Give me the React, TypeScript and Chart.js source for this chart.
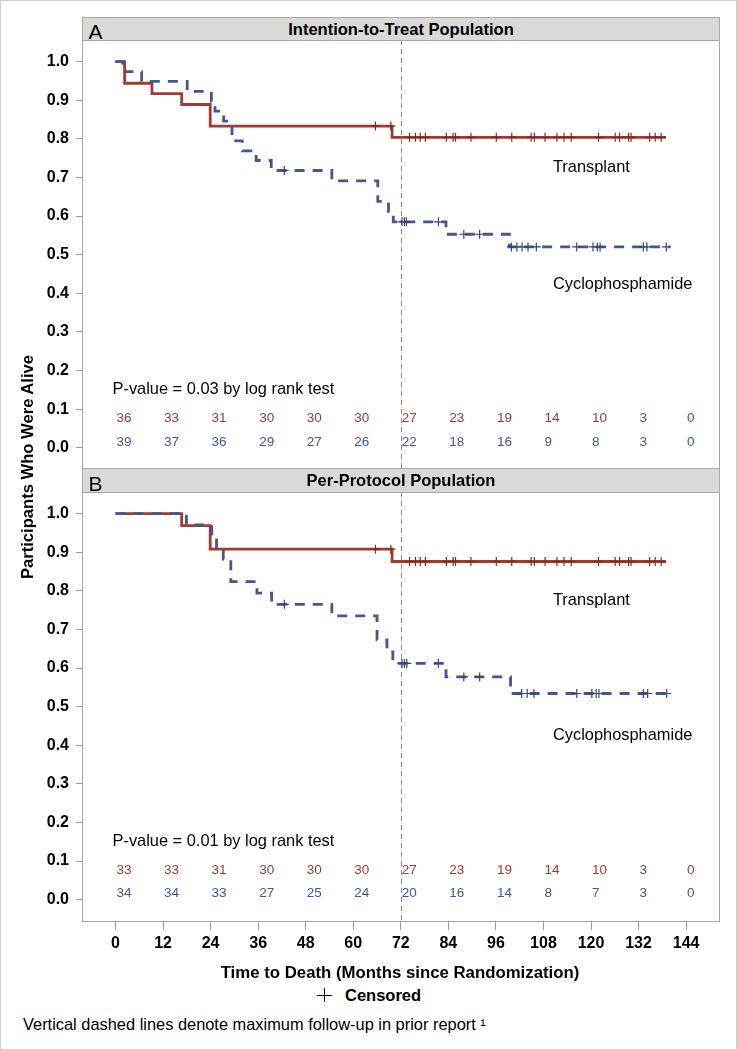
import React, { useEffect, useRef } from "react";
import { Chart, registerables } from "chart.js";

Chart.register(...registerables);

const FONT = '"Liberation Sans", Arial, Helvetica, sans-serif';
const RED = "#A23A2E";
const BLUE = "#445694";
const RED_MARK = "#7E2A22";
const BLUE_MARK = "#33457A";

// ---- axes ----
const X_TICKS = [0, 12, 24, 36, 48, 60, 72, 84, 96, 108, 120, 132, 144];
const Y_TICKS = [0, 0.1, 0.2, 0.3, 0.4, 0.5, 0.6, 0.7, 0.8, 0.9, 1.0];
const MAX_FOLLOWUP = 72;

// ---- Panel A: Intention-to-Treat ----
const A_TRANSPLANT_T = [0, 2.3, 9.2, 16.7, 23.9, 69.8, 138.9];
const A_TRANSPLANT_S = [1.0, 0.944, 0.917, 0.889, 0.833, 0.804, 0.804];
const A_TRANSPLANT_CENS = [65.6, 69.5, 74.2, 75.7, 76.9, 78.2, 83.5, 85.2, 85.8, 89.7, 96.1, 100.0, 104.9, 105.7, 108.4, 111.4, 113.2, 115.0, 121.9, 126.1, 127.2, 129.5, 130.1, 134.8, 136.2, 137.7];

const A_CYCLO_T = [0, 1.8, 6.6, 18.1, 24.2, 25.1, 27.3, 29.4, 32.0, 35.5, 39.3, 54.6, 66.2, 68.9, 70.1, 83.4, 99.4, 140.0];
const A_CYCLO_S = [1.0, 0.974, 0.949, 0.923, 0.897, 0.872, 0.846, 0.795, 0.769, 0.744, 0.718, 0.691, 0.638, 0.612, 0.585, 0.553, 0.520, 0.520];
const A_CYCLO_CENS = [42.6, 72.3, 72.9, 73.4, 81.5, 87.9, 91.9, 99.9, 101.3, 102.6, 104.1, 106.2, 116.4, 120.5, 121.6, 122.3, 133.2, 134.1, 139.0];

const A_RISK_TRANSPLANT = [36, 33, 31, 30, 30, 30, 27, 23, 19, 14, 10, 3, 0];
const A_RISK_CYCLO = [39, 37, 36, 29, 27, 26, 22, 18, 16, 9, 8, 3, 0];

// ---- Panel B: Per-Protocol ----
const B_TRANSPLANT_T = [0, 16.7, 23.9, 69.8, 138.9];
const B_TRANSPLANT_S = [1.0, 0.969, 0.908, 0.876, 0.876];
const B_TRANSPLANT_CENS = [65.6, 69.5, 74.2, 75.7, 76.9, 78.2, 83.5, 85.2, 85.8, 89.7, 96.1, 100.0, 104.9, 105.7, 108.4, 111.4, 113.2, 115.0, 121.9, 126.1, 127.2, 129.5, 130.1, 134.8, 136.2, 137.7];

const B_CYCLO_T = [0, 17.9, 24.3, 25.5, 27.2, 29.1, 35.7, 39.4, 54.6, 66.0, 68.5, 70.0, 83.4, 99.7, 140.4];
const B_CYCLO_S = [1.0, 0.971, 0.941, 0.912, 0.882, 0.824, 0.794, 0.765, 0.735, 0.673, 0.642, 0.612, 0.577, 0.534, 0.534];
const B_CYCLO_CENS = [42.6, 72.3, 72.9, 73.5, 81.5, 87.9, 91.9, 102.5, 103.9, 105.6, 116.4, 120.2, 121.3, 122.0, 133.2, 134.3, 139.1];

const B_RISK_TRANSPLANT = [33, 33, 31, 30, 30, 30, 27, 23, 19, 14, 10, 3, 0];
const B_RISK_CYCLO = [34, 34, 33, 27, 25, 24, 20, 16, 14, 8, 7, 3, 0];

type Panel = {
  tT: number[]; tS: number[]; tC: number[];
  cT: number[]; cS: number[]; cC: number[];
  riskT: number[]; riskC: number[];
  pValue: string;
  labelX: number; labelTY: number; labelCY: number;
  pY: number; riskTY: number; riskCY: number;
  yMin: number; yMax: number;
  showX: boolean;
};

const PANEL_A: Panel = {
  tT: A_TRANSPLANT_T, tS: A_TRANSPLANT_S, tC: A_TRANSPLANT_CENS,
  cT: A_CYCLO_T, cS: A_CYCLO_S, cC: A_CYCLO_CENS,
  riskT: A_RISK_TRANSPLANT, riskC: A_RISK_CYCLO,
  pValue: "P-value = 0.03 by log rank test",
  labelX: 110.4, labelTY: 0.725, labelCY: 0.424,
  pY: 0.152, riskTY: 0.077, riskCY: 0.015,
  yMin: -0.055, yMax: 1.056, showX: false,
};

const PANEL_B: Panel = {
  tT: B_TRANSPLANT_T, tS: B_TRANSPLANT_S, tC: B_TRANSPLANT_CENS,
  cT: B_CYCLO_T, cS: B_CYCLO_S, cC: B_CYCLO_CENS,
  riskT: B_RISK_TRANSPLANT, riskC: B_RISK_CYCLO,
  pValue: "P-value = 0.01 by log rank test",
  labelX: 110.4, labelTY: 0.775, labelCY: 0.426,
  pY: 0.151, riskTY: 0.076, riskCY: 0.016,
  yMin: -0.058, yMax: 1.056, showX: true,
};

const levelAt = (ts: number[], ss: number[], c: number) => {
  let v = ss[0];
  for (let i = 0; i < ts.length; i++) if (ts[i] <= c) v = ss[i];
  return v;
};

const makeDecor = (p: Panel) => ({
  id: "kmDecor",
  beforeDatasetsDraw(chart: any) {
    const { ctx, chartArea: a, scales } = chart;
    const x = Math.round(scales.x.getPixelForValue(MAX_FOLLOWUP)) + 0.5;
    ctx.save();
    ctx.strokeStyle = "#8a8a8a";
    ctx.lineWidth = 1;
    ctx.setLineDash([5, 4]);
    ctx.beginPath();
    ctx.moveTo(x, a.top);
    ctx.lineTo(x, a.bottom);
    ctx.stroke();
    ctx.restore();
  },
  afterDraw(chart: any) {
    const { ctx, chartArea: a, scales } = chart;
    const xs = scales.x;
    const ys = scales.y;
    ctx.save();
    ctx.strokeStyle = "#a6a6a6";
    ctx.lineWidth = 1;
    ctx.strokeRect(a.left - 0.5, a.top + 0.5, a.right - a.left + 1, a.bottom - a.top - 1);

    ctx.textBaseline = "middle";
    ctx.textAlign = "left";
    ctx.fillStyle = "#000";
    ctx.font = `16.4px ${FONT}`;
    ctx.fillText(p.pValue, xs.getPixelForValue(0) - 3, ys.getPixelForValue(p.pY));
    ctx.fillText("Transplant", xs.getPixelForValue(p.labelX), ys.getPixelForValue(p.labelTY));
    ctx.fillText("Cyclophosphamide", xs.getPixelForValue(p.labelX), ys.getPixelForValue(p.labelCY));

    ctx.font = `13.5px ${FONT}`;
    X_TICKS.forEach((t, i) => {
      const px = xs.getPixelForValue(t) + 1;
      ctx.fillStyle = RED;
      ctx.fillText(String(p.riskT[i]), px, ys.getPixelForValue(p.riskTY));
      ctx.fillStyle = BLUE;
      ctx.fillText(String(p.riskC[i]), px, ys.getPixelForValue(p.riskCY));
    });
    ctx.restore();
  },
});

const buildChart = (canvas: HTMLCanvasElement, p: Panel) => {
  const line = (ts: number[], ss: number[]) => ts.map((t, i) => ({ x: t, y: ss[i] }));
  const marks = (cs: number[], ts: number[], ss: number[]) => cs.map((c) => ({ x: c, y: levelAt(ts, ss, c) }));
  return new Chart(canvas, {
    type: "scatter",
    data: {
      datasets: [
        {
          data: line(p.tT, p.tS), showLine: true, stepped: true, pointRadius: 0,
          borderColor: RED, borderWidth: 2.8, order: 3,
        },
        {
          data: line(p.cT, p.cS), showLine: true, stepped: true, pointRadius: 0,
          borderColor: BLUE, borderWidth: 2.8, borderDash: [10, 8], borderCapStyle: "butt", order: 2,
        },
        {
          data: marks(p.tC, p.tT, p.tS), showLine: false, pointStyle: "cross", pointRadius: 4.5,
          borderColor: RED_MARK, borderWidth: 1.2, backgroundColor: "transparent", order: 1,
        },
        {
          data: marks(p.cC, p.cT, p.cS), showLine: false, pointStyle: "cross", pointRadius: 4.5,
          borderColor: BLUE_MARK, borderWidth: 1.2, backgroundColor: "transparent", order: 0,
        },
      ] as any,
    },
    options: {
      animation: false,
      responsive: true,
      maintainAspectRatio: false,
      events: [],
      layout: { autoPadding: false, padding: { left: 0, right: 18, top: 0, bottom: 0 } },
      plugins: { legend: { display: false }, tooltip: { enabled: false } },
      scales: {
        x: {
          type: "linear", min: -8.2, max: 152.3, display: p.showX,
          afterBuildTicks: (s: any) => { s.ticks = X_TICKS.map((v) => ({ value: v })); },
          afterFit: (s: any) => {
            s.height = p.showX ? 40 : 0;
            s.paddingLeft = 0; s.paddingRight = 0; s.paddingTop = 0; s.paddingBottom = 0;
          },
          grid: { drawOnChartArea: false, drawTicks: true, tickLength: 8, color: "#9a9a9a" },
          border: { display: false },
          ticks: {
            font: { family: FONT, size: 16, weight: "bold" }, color: "#000", padding: 4,
            maxRotation: 0, autoSkip: false, callback: (v: any) => String(v),
          },
        },
        y: {
          type: "linear", min: p.yMin, max: p.yMax,
          afterBuildTicks: (s: any) => { s.ticks = Y_TICKS.map((v) => ({ value: v })); },
          afterFit: (s: any) => { s.width = 83; s.paddingTop = 0; s.paddingBottom = 0; },
          grid: { drawOnChartArea: false, drawTicks: true, tickLength: 7, color: "#9a9a9a" },
          border: { display: false },
          ticks: {
            font: { family: FONT, size: 16, weight: "bold" }, color: "#000", padding: 7,
            autoSkip: false, callback: (v: any) => Number(v).toFixed(1),
          },
        },
      } as any,
    },
    plugins: [makeDecor(p)],
  });
};

const Header = ({ top, height, letter, title, letterTop }: { top: number; height: number; letter: string; title: string; letterTop: number }) => (
  <div
    style={{
      position: "absolute", left: 82, top, width: 638, height, boxSizing: "border-box",
      border: "1px solid #a9a9a9", background: "#d9d9d6",
    }}
  >
    <div
      style={{
        position: "absolute", left: 0, top: 0, width: "100%", height: height - 2,
        lineHeight: `${height - 2}px`, textAlign: "center", fontWeight: "bold", fontSize: 16.5, color: "#000",
      }}
    >
      {title}
    </div>
    <div style={{ position: "absolute", left: 5.5, top: letterTop, fontSize: 21, lineHeight: "21px", color: "#000" }}>
      {letter}
    </div>
  </div>
);

export default function App() {
  const refA = useRef<HTMLCanvasElement>(null);
  const refB = useRef<HTMLCanvasElement>(null);

  useEffect(() => {
    document.body.style.margin = "0";
    const ca = buildChart(refA.current as HTMLCanvasElement, PANEL_A);
    const cb = buildChart(refB.current as HTMLCanvasElement, PANEL_B);
    return () => {
      ca.destroy();
      cb.destroy();
    };
  }, []);

  return (
    <div style={{ position: "relative", width: 737, height: 1050, background: "#fff", fontFamily: FONT, overflow: "hidden" }}>
      <div style={{ position: "absolute", left: 0, top: 0, width: 737, height: 1050, boxSizing: "border-box", border: "1px solid #cfcfcf" }} />
      <Header top={17} height={24} letter="A" title="Intention-to-Treat Population" letterTop={3.2} />
      <div style={{ position: "absolute", left: 0, top: 40, width: 737, height: 429 }}>
        <canvas ref={refA} />
      </div>
      <Header top={468} height={25} letter="B" title="Per-Protocol Population" letterTop={4.2} />
      <div style={{ position: "absolute", left: 0, top: 492, width: 737, height: 470 }}>
        <canvas ref={refB} />
      </div>
      <div
        style={{
          position: "absolute", left: 28 - 150, top: 467 - 10, width: 300, height: 20, lineHeight: "20px",
          textAlign: "center", fontWeight: "bold", fontSize: 16.6, transform: "rotate(-90deg)", color: "#000",
        }}
      >
        Participants Who Were Alive
      </div>
      <div
        style={{
          position: "absolute", left: 100, top: 962.7, width: 600, height: 20, lineHeight: "20px",
          textAlign: "center", fontWeight: "bold", fontSize: 16.8, color: "#000",
        }}
      >
        Time to Death (Months since Randomization)
      </div>
      <div style={{ position: "absolute", left: 317, top: 994.5, width: 15, height: 1, background: "#000" }} />
      <div style={{ position: "absolute", left: 324, top: 988, width: 1, height: 14, background: "#000" }} />
      <div
        style={{
          position: "absolute", left: 345, top: 985.2, height: 20, lineHeight: "20px",
          fontWeight: "bold", fontSize: 16.5, color: "#000", whiteSpace: "nowrap",
        }}
      >
        Censored
      </div>
      <div
        style={{
          position: "absolute", left: 23, top: 1014, height: 20, lineHeight: "20px",
          fontSize: 16.4, color: "#000", whiteSpace: "nowrap",
        }}
      >
        Vertical dashed lines denote maximum follow-up in prior report ¹
      </div>
    </div>
  );
}
